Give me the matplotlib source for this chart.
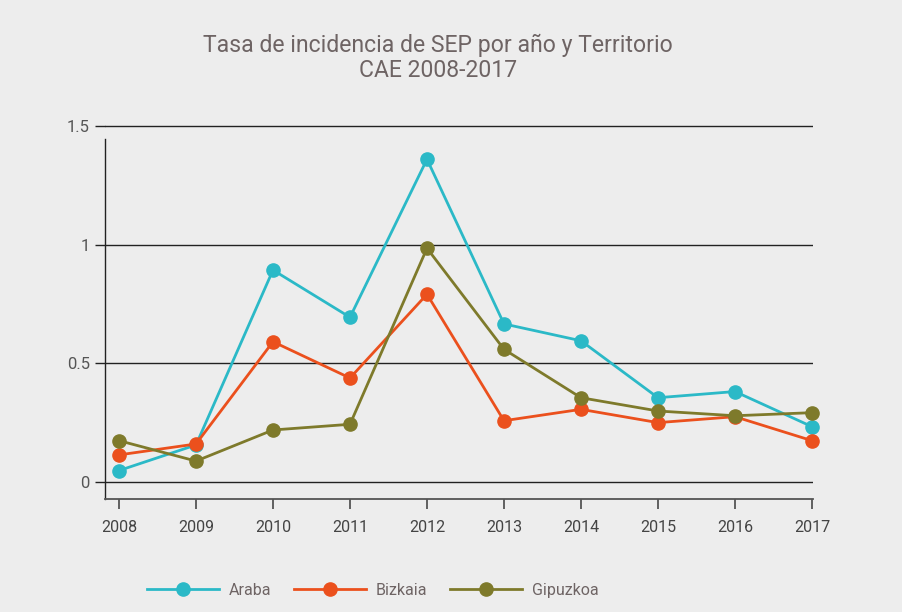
import matplotlib
matplotlib.use("Agg")
import matplotlib.pyplot as plt
from matplotlib.lines import Line2D

# Datos
anios = ["2008", "2009", "2010", "2011", "2012", "2013", "2014", "2015", "2016", "2017"]
araba = [0.048, 0.156, 0.893, 0.694, 1.360, 0.666, 0.595, 0.355, 0.381, 0.233]
bizkaia = [0.114, 0.160, 0.591, 0.438, 0.791, 0.258, 0.306, 0.250, 0.275, 0.174]
gipuzkoa = [0.174, 0.088, 0.219, 0.243, 0.985, 0.559, 0.355, 0.299, 0.279, 0.292]
y_ticks = [0, 0.5, 1, 1.5]
y_labels = ["0", "0.5", "1", "1.5"]

series = [
    ("Araba", araba, "#2bb9c7"),
    ("Bizkaia", bizkaia, "#eb501d"),
    ("Gipuzkoa", gipuzkoa, "#7e7a2b"),
]

bg = "#ededed"
text_col = "#6e6464"
plt.rcParams["font.family"] = ["Roboto", "DejaVu Sans"]

fig = plt.figure(figsize=(9.02, 6.12), dpi=100, facecolor=bg)
ax = fig.add_axes([0.1164, 0.1846, 0.7849, 0.6172], facecolor=bg)

x = list(range(len(anios)))
for nombre, valores, color in series:
    ax.plot(x, valores, color=color, linewidth=2.0, marker="o", markersize=9.5,
            label=nombre, clip_on=False, zorder=3)

ax.set_xlim(-0.182, 9.013)
ax.set_ylim(-0.072, 1.52)

ax.set_yticks(y_ticks)
ax.set_yticklabels(y_labels)
ax.grid(axis="y", color="#222222", linewidth=1.0)
ax.set_axisbelow(True)

ax.set_xticks(x)
ax.set_xticklabels(anios)

for s in ["top", "right"]:
    ax.spines[s].set_visible(False)
ax.spines["left"].set_bounds(-0.072, 1.445)
ax.spines["left"].set_color("#222222")
ax.spines["left"].set_linewidth(1.0)
ax.spines["bottom"].set_color("#555555")
ax.spines["bottom"].set_linewidth(1.3)

ax.tick_params(axis="y", length=7, width=1.0, color="#222222", labelsize=12,
               labelcolor="#555555", pad=4)
ax.tick_params(axis="x", length=7, width=1.3, color="#555555", labelsize=11.5,
               labelcolor="#444444", pad=8)

fig.text(0.486, 0.905, "Tasa de incidencia de SEP por año y Territorio\nCAE 2008-2017",
         ha="center", va="center", fontsize=16.6, color=text_col, linespacing=1.12)

handles = [Line2D([0], [0], color=c, linewidth=2.0, marker="o", markersize=9.5)
           for _, _, c in series]
fig.legend(handles, [n for n, _, _ in series], loc="center", bbox_to_anchor=(0.413, 0.035),
           ncol=3, frameon=False, handlelength=4.5, columnspacing=1.45, handletextpad=0.6,
           fontsize=11.5, labelcolor=text_col)

fig.savefig("out.png", dpi=100, facecolor=bg)
